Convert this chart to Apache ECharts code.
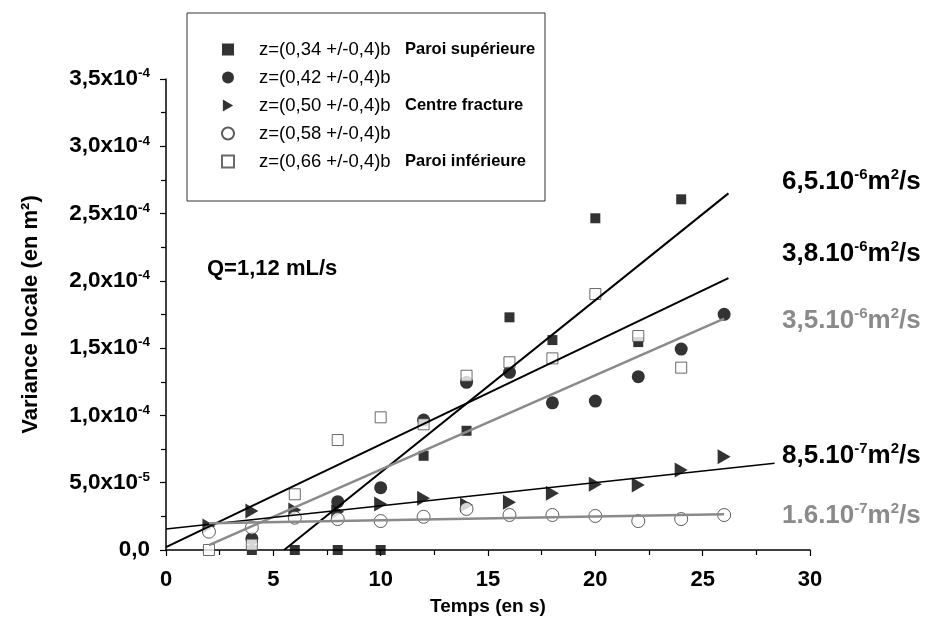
<!DOCTYPE html>
<html><head><meta charset="utf-8">
<script src="https://cdn.jsdelivr.net/npm/echarts@6/dist/echarts.min.js"></script>
<style>html,body{margin:0;padding:0;background:#fff}#c{width:927px;height:631px}</style>
</head><body><div id="c"></div>
<script>
// ---- data ----
const seriesNames = ['z=(0,34 +/-0,4)b','z=(0,42 +/-0,4)b','z=(0,50 +/-0,4)b','z=(0,58 +/-0,4)b','z=(0,66 +/-0,4)b'];
const seriesDesc  = ['Paroi supérieure','','Centre fracture','','Paroi inférieure'];

const tSup = [4,6,8,10,12,14,16,18,20,22,24];
const vSup = [0,0,0,0,7.0e-5,8.86e-5,1.729e-4,1.56e-4,2.465e-4,1.545e-4,2.606e-4];

const tC42 = [4,8,10,12,14,16,18,20,22,24,26];
const vC42 = [8.5e-6,3.59e-5,4.63e-5,9.66e-5,1.246e-4,1.32e-4,1.094e-4,1.107e-4,1.288e-4,1.493e-4,1.751e-4];

const tCen = [2,4,6,8,10,12,14,16,18,20,22,24,26];
const vCen = [1.78e-5,2.9e-5,2.97e-5,2.85e-5,3.42e-5,3.84e-5,3.34e-5,3.54e-5,4.21e-5,4.88e-5,4.83e-5,5.94e-5,6.93e-5];

const tC58 = [2,4,6,8,10,12,14,16,18,20,22,24,26];
const vC58 = [1.36e-5,1.66e-5,2.4e-5,2.3e-5,2.15e-5,2.47e-5,3.05e-5,2.6e-5,2.6e-5,2.53e-5,2.15e-5,2.3e-5,2.6e-5];

const tInf = [2,4,6,8,10,12,14,16,18,20,22,24];
const vInf = [0,4e-6,4.14e-5,8.17e-5,9.86e-5,9.34e-5,1.295e-4,1.395e-4,1.424e-4,1.902e-4,1.59e-4,1.355e-4];

// fitted straight lines: end points (time, variance)
const fitSupT = [5.5, 26.2];  const fitSupV = [0, 2.65e-4];
const fitC42T = [0, 26.2];    const fitC42V = [2.2e-6, 2.02e-4];
const fitInfT = [2, 26];      const fitInfV = [3.7e-6, 1.72e-4];
const fitCenT = [0, 28.35];   const fitCenV = [1.56e-5, 6.45e-5];
const fitC58T = [2, 26];      const fitC58V = [1.98e-5, 2.65e-5];

// diffusion coefficient labels
const diffMant = ['6,5.10','3,8.10','3,5.10','8,5.10','1.6.10'];
const diffExp  = ['-6','-6','-6','-7','-7'];

// axis tick labels
const xTicks = [0,5,10,15,20,25,30];
const yTickMant = ['0,0','5,0x10','1,0x10','1,5x10','2,0x10','2,5x10','3,0x10','3,5x10'];
const yTickExp  = ['','-5','-4','-4','-4','-4','-4','-4'];
const yStep = 5e-5;

const qLabel = 'Q=1,12 mL/s';

// ---- chart ----
const zip = (a,b) => a.map((x,i)=>[x,b[i]]);
const FONT = '"Liberation Sans", Arial, sans-serif';
const GRAY = '#8a8a8a';
const triPath = 'path://M0,0 L12,7 L0,14 Z';

const scatterDefs = [
  {t:tSup, v:vSup, symbol:'rect', size:10, style:{color:'#000'}},
  {t:tC42, v:vC42, symbol:'circle', size:13, style:{color:'#000'}},
  {t:tCen, v:vCen, symbol:triPath, size:[13,15], style:{color:'#000'}},
  {t:tC58, v:vC58, symbol:'circle', size:13, style:{color:'#fff', borderColor:'#333', borderWidth:1}},
  {t:tInf, v:vInf, symbol:'rect', size:11, style:{color:'#fff', borderColor:'#444', borderWidth:1}}
];
const fitDefs = [
  {t:fitSupT, v:fitSupV, color:'#000', w:2},
  {t:fitC42T, v:fitC42V, color:'#000', w:2},
  {t:fitInfT, v:fitInfV, color:GRAY, w:2.5},
  {t:fitCenT, v:fitCenV, color:'#000', w:1.5},
  {t:fitC58T, v:fitC58V, color:GRAY, w:2.5}
];

const series = [];
scatterDefs.forEach((d,i)=>{
  series.push({name:seriesNames[i], type:'scatter', symbol:d.symbol, symbolSize:d.size,
    itemStyle:d.style, data:zip(d.t,d.v), z:2, emphasis:{disabled:true}});
});
fitDefs.forEach(d=>{
  series.push({type:'line', data:zip(d.t,d.v), showSymbol:false, symbol:'none', z:3,
    lineStyle:{color:d.color, width:d.w}, silent:true});
});

const descMap = {}; seriesNames.forEach((n,i)=>descMap[n]=seriesDesc[i]);

const diffColors = ['#000','#000',GRAY,'#000',GRAY];
const diffPos = [[782,182],[782,254],[782,321],[782,456],[782,516]];
const graphics = [
  {type:'rect', shape:{x:187,y:13,width:358,height:188}, style:{fill:'none', stroke:'#333', lineWidth:1}, z:1},
  {type:'text', left:207, top:258, style:{text:qLabel, font:'bold 22px '+FONT, fill:'#000'}}
];
diffMant.forEach((m,i)=>{
  graphics.push({type:'text', x:diffPos[i][0], y:diffPos[i][1],
    style:{text:'{a|'+m+'}{s|'+diffExp[i]+'}{a|m}{s|2}{a|/s}', verticalAlign:'middle', fill:diffColors[i],
      rich:{a:{font:'bold 26px '+FONT, fill:diffColors[i], lineHeight:30},
            s:{font:'bold 15px '+FONT, fill:diffColors[i], lineHeight:16, verticalAlign:'top'}}}});
});

const chart = echarts.init(document.getElementById('c'));
chart.setOption({
  animation:false,
  backgroundColor:'#fff',
  grid:{left:166, right:117, top:79, bottom:81},
  xAxis:{type:'value', min:0, max:30, interval:5,
    name:'Temps (en s)', nameLocation:'middle', nameGap:47,
    nameTextStyle:{fontFamily:FONT, fontWeight:'bold', fontSize:19, color:'#000'},
    axisLine:{lineStyle:{color:'#000', width:1.5}},
    axisTick:{show:true, inside:false, length:6, lineStyle:{color:'#000', width:1.2}},
    minorTick:{show:true, splitNumber:2, length:5, lineStyle:{color:'#000', width:1.2}},
    splitLine:{show:false},
    axisLabel:{margin:19, fontFamily:FONT, fontWeight:'bold', fontSize:22, color:'#000',
      formatter:v=>{const i=xTicks.indexOf(v); return i>=0? String(xTicks[i]):'';}}
  },
  yAxis:{type:'value', min:0, max:3.5e-4, interval:yStep,
    name:'Variance locale (en m²)', nameLocation:'middle', nameGap:124, nameRotate:90,
    nameTextStyle:{fontFamily:FONT, fontWeight:'bold', fontSize:22, color:'#000'},
    axisLine:{show:true, lineStyle:{color:'#000', width:1.5}},
    axisTick:{show:true, inside:false, length:6, lineStyle:{color:'#000', width:1.2}},
    minorTick:{show:true, splitNumber:2, length:5, lineStyle:{color:'#000', width:1.2}},
    splitLine:{show:false},
    axisLabel:{margin:16, color:'#000',
      formatter:v=>{const i=Math.round(v/yStep); if(!yTickExp[i]) return '{a|'+yTickMant[i]+'}';
        return '{a|'+yTickMant[i]+'}{s|'+yTickExp[i]+'}';},
      rich:{a:{fontFamily:FONT, fontWeight:'bold', fontSize:22.5, lineHeight:25, color:'#000'},
            s:{fontFamily:FONT, fontWeight:'bold', fontSize:13.5, lineHeight:14, verticalAlign:'top', color:'#000'}}
    }
  },
  legend:{data:seriesNames, orient:'vertical', left:216, top:35, itemWidth:12, itemHeight:12, itemGap:9,
    selectedMode:false,
    formatter:n=>'{p| }{n|'+n+'}{d|'+descMap[n]+'}',
    textStyle:{rich:{p:{fontSize:18, width:20, lineHeight:22},
                     n:{fontFamily:FONT, fontSize:18.5, color:'#000', width:146, lineHeight:22},
                     d:{fontFamily:FONT, fontWeight:'bold', fontSize:16.5, color:'#000', lineHeight:22}}}
  },
  graphic:graphics,
  series:series
});
</script></body></html>
